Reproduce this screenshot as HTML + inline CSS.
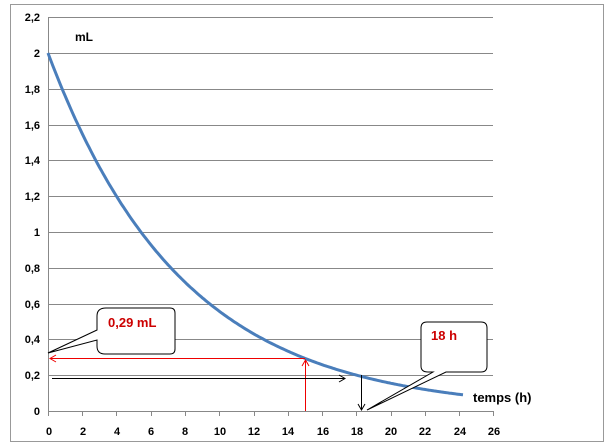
<!DOCTYPE html>
<html><head><meta charset="utf-8"><style>body{margin:0;background:#fff}svg{display:block;font-family:"Liberation Sans",sans-serif}</style></head><body>
<svg width="611" height="447" viewBox="0 0 611 447">
<rect x="10.5" y="4.5" width="593" height="437" fill="#fff" stroke="#999"/>
<g stroke="#888" stroke-width="1">
<line x1="48" y1="17.5" x2="493" y2="17.5"/><line x1="48" y1="53.5" x2="493" y2="53.5"/><line x1="48" y1="89.5" x2="493" y2="89.5"/><line x1="48" y1="125.5" x2="493" y2="125.5"/><line x1="48" y1="160.5" x2="493" y2="160.5"/><line x1="48" y1="196.5" x2="493" y2="196.5"/><line x1="48" y1="232.5" x2="493" y2="232.5"/><line x1="48" y1="268.5" x2="493" y2="268.5"/><line x1="48" y1="304.5" x2="493" y2="304.5"/><line x1="48" y1="339.5" x2="493" y2="339.5"/><line x1="48" y1="375.5" x2="493" y2="375.5"/><line x1="48" y1="411.5" x2="493" y2="411.5"/>
<line x1="48.5" y1="17" x2="48.5" y2="416"/>
<line x1="82.5" y1="411" x2="82.5" y2="416"/><line x1="116.5" y1="411" x2="116.5" y2="416"/><line x1="151.5" y1="411" x2="151.5" y2="416"/><line x1="185.5" y1="411" x2="185.5" y2="416"/><line x1="219.5" y1="411" x2="219.5" y2="416"/><line x1="254.5" y1="411" x2="254.5" y2="416"/><line x1="288.5" y1="411" x2="288.5" y2="416"/><line x1="322.5" y1="411" x2="322.5" y2="416"/><line x1="356.5" y1="411" x2="356.5" y2="416"/><line x1="391.5" y1="411" x2="391.5" y2="416"/><line x1="425.5" y1="411" x2="425.5" y2="416"/><line x1="459.5" y1="411" x2="459.5" y2="416"/><line x1="493.5" y1="411" x2="493.5" y2="416"/>
</g>
<g font-size="11" font-weight="bold" fill="#000" text-anchor="end">
<text x="40" y="21">2,2</text><text x="40" y="57">2</text><text x="40" y="93">1,8</text><text x="40" y="129">1,6</text><text x="40" y="164">1,4</text><text x="40" y="200">1,2</text><text x="40" y="236">1</text><text x="40" y="272">0,8</text><text x="40" y="308">0,6</text><text x="40" y="343">0,4</text><text x="40" y="379">0,2</text><text x="40" y="415">0</text>
</g>
<g font-size="11" font-weight="bold" text-anchor="middle">
<text x="49" y="435">0</text><text x="83" y="435">2</text><text x="117" y="435">4</text><text x="151" y="435">6</text><text x="185" y="435">8</text><text x="220" y="435">10</text><text x="254" y="435">12</text><text x="288" y="435">14</text><text x="323" y="435">16</text><text x="357" y="435">18</text><text x="391" y="435">20</text><text x="425" y="435">22</text><text x="460" y="435">24</text><text x="494" y="435">26</text>
</g>
<text x="75" y="41" font-size="12" font-weight="bold">mL</text>
<text x="473" y="402" font-size="13" font-weight="bold">temps (h)</text>
<path id="c" fill="none" stroke="#4a7ebb" stroke-width="3"/>
<g stroke="#e00" stroke-width="1" fill="none">
<line x1="50" y1="358.5" x2="305" y2="358.5"/><path d="M56,355 L50,358.5 L56,362"/>
<line x1="305.5" y1="411" x2="305.5" y2="360"/><path d="M302,366 L305.5,360 L309,366"/>
</g>
<g stroke="#000" stroke-width="1" fill="none">
<line x1="52" y1="378.5" x2="345" y2="378.5"/><path d="M339,375 L345,378.5 L339,382"/>
<line x1="361.5" y1="375" x2="361.5" y2="410"/><path d="M358,404 L361.5,410 L365,404"/>
</g>
<path d="M106,308 H170 Q175,308 175,313 V349 Q175,354 170,354 H105 Q97,354 97,346 V340 L48,353 L97,330 V316 Q97,308 106,308 Z" fill="#fff" stroke="#000"/>
<text x="108" y="327" font-size="13" font-weight="bold" fill="#c00">0,29 mL</text>
<path d="M427,322 H481 Q487,322 487,328 V366 Q487,372 481,372 H446 L367,410 L433,372 H428 Q421,372 421,366 V328 Q421,322 427,322 Z" fill="#fff" stroke="#000"/>
<text x="431" y="340" font-size="13" font-weight="bold" fill="#c00">18 h</text>
<script>
var x0=48,ux=17.15,y0=411,uy=179;
var d='';for(var k=0;k<=242;k++){var tt=k/10,v=2*Math.exp(-Math.LN10/18*tt);d+=(k?'L':'M')+(x0+tt*ux).toFixed(1)+','+(y0-v*uy).toFixed(1);}
document.getElementById('c').setAttribute('d',d);
</script>
</svg>
</body></html>
